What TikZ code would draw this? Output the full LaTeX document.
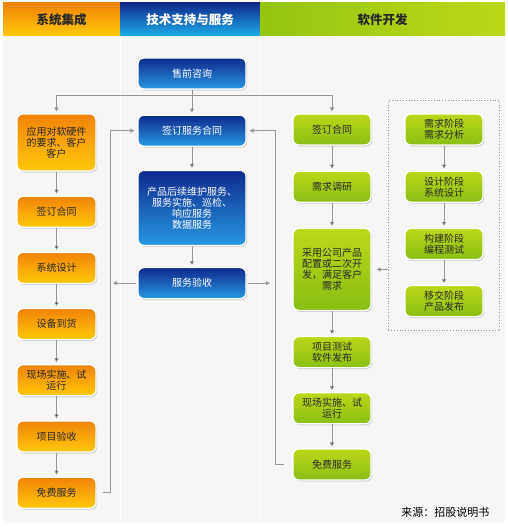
\documentclass[tikz,border=0pt]{standalone}
\usepackage{fontspec}
\setmainfont{Noto Sans CJK SC}
\usetikzlibrary{positioning, arrows.meta, shadows, fit}
\definecolor{orangetop}{RGB}{240,132,8}
\definecolor{orangebot}{RGB}{255,200,10}
\definecolor{bluetop}{RGB}{14,42,140}
\definecolor{bluebot}{RGB}{40,152,226}
\definecolor{greentop}{RGB}{188,216,24}
\definecolor{greenbot}{RGB}{138,190,20}
\definecolor{textdark}{RGB}{40,40,40}
\definecolor{linegray}{RGB}{150,150,150}
\definecolor{bodygray}{RGB}{246,246,246}
\tikzset{
        >={Triangle[length=4pt,width=4pt]}, % small gray arrow heads
        node distance=24pt, % gap between two boxes of a column
        box/.style={rounded corners=6pt, draw=white, line width=1.2pt, align=center,
          font=\fontsize{10}{11}\selectfont, minimum height=31pt,
          drop shadow={opacity=0.3, shadow xshift=1.2pt, shadow yshift=-1.5pt}},
        orangebox/.style={box, minimum width=79pt, top color=orangetop, bottom color=orangebot, text=textdark},
        bluebox/.style={box, minimum width=108pt, top color=bluetop, bottom color=bluebot, text=white},
        greenbox/.style={box, minimum width=78pt, top color=greentop, bottom color=greenbot, text=textdark},
        header/.style={minimum height=33pt, inner sep=0pt, font=\fontsize{12.5}{14}\selectfont\bfseries},
        phasebox/.style={draw=linegray, dotted, line width=0.8pt},
        link/.style={draw=linegray, line width=0.8pt},
    }

\begin{document}
\begin{tikzpicture}[x=1pt, y=-1pt]
    \useasboundingbox (0,0) rectangle (508,527);
    % background and column headers
    \fill[bodygray] (3,36) rectangle (505,523);
    \draw[white, line width=1pt] (120,36) -- (120,523) (260,36) -- (260,523);
    \node[header, minimum width=117pt, top color=orangetop, bottom color=orangebot, text=textdark] (hsys) at (61.5,19.5) {系统集成};
    \node[header, minimum width=140pt, top color=bluetop, bottom color=bluebot!80!cyan, text=white] (hsup) at (190,19.5) {技术支持与服务};
    \node[header, minimum width=245pt, left color=greenbot!90!yellow, right color=greentop, text=textdark] (hsoft) at (382.5,19.5) {软件开发};

    % technical support column
    \node[bluebox] (pre) at (192,73.5) {售前咨询};
    \node[bluebox, below=25pt of pre] (bsign) {签订服务合同};
    \node[bluebox, below=23pt of bsign, minimum height=75pt] (bmaint) {产品后续维护服务、\\服务实施、巡检、\\响应服务\\数据服务};
    \node[bluebox, below=21pt of bmaint] (bcheck) {服务验收};

    % system integration column
    \node[orangebox, minimum height=57pt] (oreq) at (56.5,142.5) {应用对软硬件\\的要求、客户\\客户};
    \node[orangebox, below=of oreq] (osign) {签订合同};
    \node[orangebox, below=of osign] (osys) {系统设计};
    \node[orangebox, below=of osys] (odev) {设备到货};
    \node[orangebox, below=of odev] (oimpl) {现场实施、试\\运行};
    \node[orangebox, below=of oimpl] (oacc) {项目验收};
    \node[orangebox, below=of oacc] (ofree) {免费服务};

    % software column
    \node[greenbox] (gsign) at (332,129.5) {签订合同};
    \node[greenbox, below=25pt of gsign] (gres) {需求调研};
    \node[greenbox, below=25pt of gres, minimum height=82pt] (gdev) {采用公司产品\\配置或二次开\\发，满足客户\\需求};
    \node[greenbox, below=25pt of gdev] (gtest) {项目测试\\软件发布};
    \node[greenbox, below=of gtest] (gimpl) {现场实施、试\\运行};
    \node[greenbox, below=of gimpl] (gfree) {免费服务};

    \node[greenbox] (rreq) at (444,129.5) {需求阶段\\需求分析};
    \node[greenbox, below=25pt of rreq] (rdes) {设计阶段\\系统设计};
    \node[greenbox, below=25pt of rdes] (rbuild) {构建阶段\\编程测试};
    \node[greenbox, below=25pt of rbuild] (rhand) {移交阶段\\产品发布};
    \node[phasebox, fit=(rreq)(rhand), inner xsep=16pt, inner ysep=13pt] (phases) {};

    \node[font=\fontsize{11}{13}\selectfont, text=black, anchor=east] (src) at (493,512) {来源：招股说明书};

    % connectors
    \coordinate (tbar) at (192,95);
    \coordinate (lbus) at (110,0);
    \coordinate (rbus) at (275,0);
    \draw[link] (pre) -- (tbar);
    \draw[link, ->, shorten >=2pt] (tbar) -| (oreq);
    \draw[link, ->, shorten >=2pt] (tbar) -- (bsign);
    \draw[link, ->, shorten >=2pt] (tbar) -| (gsign);
    \draw[link, ->, shorten >=2pt]
      (oreq) edge (osign) (osign) edge (osys) (osys) edge (odev)
      (odev) edge (oimpl) (oimpl) edge (oacc) (oacc) edge (ofree)
      (bsign) edge (bmaint) (bmaint) edge (bcheck)
      (gsign) edge (gres) (gres) edge (gdev) (gdev) edge (gtest)
      (gtest) edge (gimpl) (gimpl) edge (gfree)
      (rreq) edge (rdes) (rdes) edge (rbuild) (rbuild) edge (rhand);
    \draw[link, ->, shorten <=6pt, shorten >=3pt] (ofree.east) -- (ofree.east -| lbus) |- (bsign);
    \draw[link, ->, shorten <=8pt, shorten >=3pt] (gfree.west) -- (gfree.west -| rbus) |- (bsign);
    \draw[link, ->, shorten <=1pt, shorten >=3pt] (bcheck) -- (bcheck -| lbus);
    \draw[link, ->, shorten <=1pt, shorten >=5pt] (bcheck) -- (bcheck -| rbus);
    \draw[link, ->, shorten >=5pt] (phases.west |- gdev) -- (gdev);
  \end{tikzpicture}
\end{document}
